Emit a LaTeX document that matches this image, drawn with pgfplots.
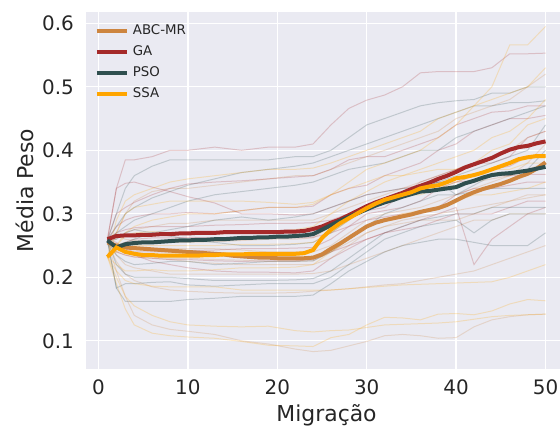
\documentclass[border=0pt]{standalone}
\usepackage{pgfplots}
\usepackage{pgfplotstable}
\pgfplotsset{compat=1.18}
\usepackage{fontspec}
\setmainfont{DejaVu Sans}
\definecolor{bgc}{RGB}{234,234,242}
\definecolor{txt}{RGB}{38,38,38}
\definecolor{cabc}{RGB}{205,133,63}
\definecolor{cga}{RGB}{165,42,42}
\definecolor{cpso}{RGB}{47,79,79}
\definecolor{cssa}{RGB}{255,165,0}

\pgfplotstableread{
x a1 a2 a3 a4 a5 a6 a7 a8 a9
1 .255 .255 .255 .255 .255 .255 .255 .255 .255
2 .27 .26 .245 .24 .235 .225 .21 .265 .25
3 .30 .27 .245 .235 .22 .205 .17 .26 .24
4 .32 .275 .245 .232 .215 .195 .14 .258 .235
6 .335 .28 .245 .23 .21 .185 .125 .255 .232
8 .34 .285 .245 .228 .205 .18 .118 .255 .23
10 .34 .285 .245 .225 .205 .178 .115 .255 .23
13 .345 .29 .245 .222 .205 .176 .11 .256 .228
16 .35 .29 .243 .22 .205 .175 .10 .258 .227
19 .355 .29 .24 .22 .205 .175 .095 .26 .225
22 .36 .29 .24 .22 .205 .176 .087 .26 .225
24 .36 .29 .24 .22 .206 .178 .083 .262 .226
26 .37 .30 .25 .23 .21 .18 .085 .28 .24
28 .38 .31 .27 .25 .22 .182 .092 .30 .255
30 .39 .32 .29 .27 .23 .185 .099 .31 .27
32 .40 .33 .30 .28 .24 .188 .108 .32 .28
34 .41 .34 .305 .285 .25 .19 .11 .33 .29
36 .42 .35 .31 .29 .26 .195 .108 .335 .295
38 .43 .36 .32 .29 .27 .20 .104 .34 .30
40 .45 .37 .33 .29 .28 .205 .105 .345 .305
42 .46 .38 .34 .30 .29 .21 .122 .35 .31
44 .47 .39 .35 .31 .29 .22 .133 .355 .315
46 .48 .40 .36 .32 .30 .23 .138 .36 .32
48 .50 .42 .37 .33 .30 .24 .141 .38 .325
50 .52 .43 .38 .33 .30 .25 .142 .41 .33
}\abcruns

\pgfplotstableread{
x g1 g2 g3 g4 g5 g6 g7 g8 g9
1 .26 .26 .26 .26 .26 .26 .26 .26 .26
2 .34 .34 .30 .28 .27 .25 .255 .24 .25
3 .385 .348 .31 .29 .275 .255 .245 .235 .24
4 .385 .35 .318 .295 .278 .26 .24 .232 .235
6 .39 .342 .33 .30 .28 .262 .24 .23 .225
8 .40 .335 .34 .30 .28 .262 .24 .228 .22
10 .40 .327 .347 .302 .28 .263 .242 .228 .215
13 .405 .317 .35 .30 .282 .262 .243 .226 .21
16 .40 .30 .352 .305 .283 .26 .245 .225 .208
19 .405 .30 .355 .31 .285 .262 .245 .226 .208
22 .405 .298 .358 .31 .285 .262 .246 .226 .207
24 .41 .30 .36 .312 .286 .263 .247 .228 .21
26 .44 .31 .37 .33 .29 .27 .26 .24 .23
28 .466 .32 .385 .34 .30 .28 .28 .25 .245
30 .479 .33 .39 .345 .305 .29 .30 .26 .26
32 .487 .335 .39 .36 .31 .295 .305 .27 .27
34 .50 .34 .40 .37 .33 .30 .31 .275 .28
36 .522 .345 .41 .38 .35 .30 .32 .28 .29
38 .524 .35 .42 .40 .36 .31 .34 .29 .30
40 .524 .35 .44 .41 .37 .33 .35 .30 .31
42 .524 .352 .45 .43 .38 .34 .36 .30 .22
44 .53 .36 .46 .44 .38 .34 .37 .30 .26
46 .552 .36 .462 .45 .39 .345 .375 .31 .28
48 .552 .362 .47 .45 .42 .35 .39 .32 .30
50 .553 .362 .47 .455 .43 .35 .39 .32 .31
}\garuns

\pgfplotstableread{
x p1 p2 p3 p4 p5 p6 p7 p8 p9
1 .258 .258 .258 .258 .258 .258 .258 .258 .258
2 .30 .28 .27 .25 .235 .22 .183 .183 .26
3 .34 .30 .28 .255 .225 .205 .19 .162 .27
4 .36 .31 .29 .26 .22 .20 .19 .162 .275
6 .375 .325 .30 .27 .222 .20 .192 .162 .27
8 .385 .335 .31 .275 .225 .20 .193 .162 .265
10 .385 .345 .32 .28 .225 .198 .188 .165 .26
13 .385 .355 .33 .29 .22 .195 .186 .167 .255
16 .385 .365 .335 .295 .222 .195 .188 .17 .25
19 .385 .37 .34 .29 .225 .195 .19 .17 .25
22 .39 .375 .345 .295 .225 .196 .19 .17 .252
24 .39 .38 .35 .30 .226 .198 .19 .172 .255
26 .40 .39 .36 .31 .24 .21 .20 .19 .27
28 .42 .40 .37 .32 .26 .23 .22 .21 .29
30 .44 .41 .375 .33 .28 .25 .24 .225 .31
32 .45 .42 .38 .335 .30 .27 .26 .24 .32
34 .46 .43 .39 .34 .31 .28 .27 .25 .33
36 .47 .44 .40 .34 .32 .29 .28 .255 .34
38 .475 .45 .40 .35 .33 .295 .285 .26 .35
40 .478 .46 .42 .33 .33 .30 .29 .26 .36
42 .48 .47 .43 .345 .335 .30 .27 .255 .37
44 .49 .47 .44 .36 .34 .31 .29 .25 .38
46 .49 .475 .45 .36 .34 .31 .30 .25 .39
48 .50 .475 .46 .37 .34 .31 .30 .25 .40
50 .50 .478 .47 .40 .34 .31 .30 .27 .44
}\psoruns

\pgfplotstableread{
x s1 s2 s3 s4 s5 s6 s7 s8 s9
1 .232 .232 .232 .232 .232 .232 .232 .232 .232
2 .25 .29 .27 .25 .24 .22 .21 .20 .19
3 .27 .32 .30 .265 .245 .21 .195 .17 .15
4 .28 .33 .31 .27 .25 .21 .19 .155 .125
6 .29 .34 .315 .272 .25 .212 .186 .14 .112
8 .295 .35 .32 .27 .25 .21 .185 .13 .108
10 .30 .355 .32 .27 .25 .21 .185 .125 .106
13 .30 .36 .32 .268 .25 .212 .185 .123 .104
16 .305 .365 .32 .27 .252 .215 .18 .122 .099
19 .31 .37 .318 .272 .252 .215 .18 .123 .093
22 .31 .37 .315 .275 .253 .216 .18 .116 .092
24 .315 .372 .318 .28 .255 .22 .18 .114 .091
26 .33 .38 .33 .30 .27 .24 .18 .116 .105
28 .35 .39 .34 .32 .29 .26 .182 .117 .11
30 .37 .40 .35 .335 .31 .28 .184 .121 .125
32 .38 .41 .36 .35 .32 .29 .186 .125 .137
34 .39 .42 .36 .36 .33 .30 .188 .126 .136
36 .40 .43 .365 .37 .33 .305 .189 .127 .133
38 .42 .45 .37 .38 .34 .31 .19 .128 .142
40 .44 .46 .37 .39 .35 .32 .191 .13 .143
42 .47 .47 .38 .40 .36 .33 .192 .134 .141
44 .50 .48 .40 .42 .37 .33 .193 .138 .147
46 .566 .49 .41 .43 .37 .335 .20 .14 .158
48 .566 .50 .44 .45 .38 .34 .21 .141 .165
50 .595 .53 .45 .48 .38 .35 .22 .142 .163
}\ssaruns

\pgfplotstableread{
x abc ga pso ssa
1 .255 .260 .258 .232
2 .250 .265 .247 .247
3 .247 .266 .252 .240
4 .246 .266 .254 .237
5 .245 .267 .255 .235
6 .244 .267 .255 .235
7 .243 .268 .256 .234
8 .242 .268 .257 .234
9 .241 .269 .258 .234
10 .240 .269 .258 .234
11 .239 .270 .259 .234
12 .238 .270 .259 .235
13 .237 .270 .260 .235
14 .236 .271 .260 .236
15 .234 .271 .261 .236
16 .233 .271 .262 .236
17 .232 .271 .262 .237
18 .231 .271 .263 .237
19 .231 .271 .263 .237
20 .230 .271 .264 .237
21 .230 .272 .264 .237
22 .230 .272 .265 .237
23 .230 .273 .266 .238
24 .231 .276 .268 .243
25 .236 .280 .275 .262
26 .245 .286 .282 .275
27 .253 .291 .289 .285
28 .262 .298 .295 .293
29 .271 .305 .301 .301
30 .280 .312 .307 .309
31 .286 .318 .313 .316
32 .290 .323 .318 .322
33 .293 .328 .322 .326
34 .296 .333 .327 .330
35 .299 .339 .331 .334
36 .303 .344 .335 .340
37 .306 .349 .336 .343
38 .309 .355 .338 .345
39 .314 .360 .340 .350
40 .321 .366 .342 .356
41 .328 .373 .348 .358
42 .334 .378 .352 .361
43 .339 .383 .357 .365
44 .343 .388 .361 .370
45 .347 .395 .363 .375
46 .352 .401 .364 .380
47 .358 .405 .366 .386
48 .363 .407 .368 .389
49 .371 .411 .371 .391
50 .381 .414 .374 .391
}\means

\begin{document}
\begin{tikzpicture}
\useasboundingbox (-86bp,-59bp) rectangle (474bp,369bp);
\begin{axis}[
  scale only axis,
  width=474bp, height=357bp,
  xmin=-1.40, xmax=51.62,
  ymin=0.0556, ymax=0.6178,
  axis background/.style={fill=bgc},
  axis line style={draw=none},
  major tick length=0pt,
  grid=major,
  major grid style={white, line width=1.3bp},
  xtick={0,10,20,30,40,50},
  ytick={0.1,0.2,0.3,0.4,0.5,0.6},
  /pgf/number format/assume math mode=true,
  yticklabel={\pgfmathprintnumber[fixed,fixed zerofill,precision=1]{\tick}},
  tick label style={font=\fontsize{20}{24}\selectfont, text=txt},
  yticklabel style={inner sep=0pt, xshift=-12bp},
  xticklabel style={inner sep=0pt, yshift=-11bp},
  xlabel={Migração},
  ylabel={Média Peso},
  every axis x label/.style={at={(axis description cs:0.5074,-0.146)}, anchor=base,
    font=\fontsize{22}{26}\selectfont, text=txt},
  every axis y label/.style={at={(axis description cs:-0.1118,0.5)}, rotate=90, anchor=base,
    font=\fontsize{22}{26}\selectfont, text=txt},
  legend style={at={(axis description cs:0.012,0.970)}, anchor=north west,
    draw=none, fill=none, font=\fontsize{13.4}{16}\selectfont, text=txt,
    nodes={inner sep=0pt, text height=10bp, text depth=3bp},
    row sep=7.8bp, /tikz/every odd column/.append style={column sep=4bp}},
  legend cell align=left,
  legend image code/.code={\draw[#1, line width=4bp] (0bp,0bp) -- (30bp,0bp);},
  faint/.style={line width=1bp, opacity=0.22, forget plot},
]
\pgfplotsinvokeforeach{a1,a2,a3,a4,a5,a6,a7,a8,a9}{\addplot[cabc, faint] table[x=x,y=#1]{\abcruns};}
\pgfplotsinvokeforeach{g1,g2,g3,g4,g5,g6,g7,g8,g9}{\addplot[cga, faint] table[x=x,y=#1]{\garuns};}
\pgfplotsinvokeforeach{p1,p2,p3,p4,p5,p6,p7,p8,p9}{\addplot[cpso, faint] table[x=x,y=#1]{\psoruns};}
\pgfplotsinvokeforeach{s1,s2,s3,s4,s5,s6,s7,s8,s9}{\addplot[cssa, faint] table[x=x,y=#1]{\ssaruns};}
\addplot[cabc, line width=4bp] table[x=x,y=abc]{\means};
\addlegendentry{ABC-MR}
\addplot[cga, line width=4bp] table[x=x,y=ga]{\means};
\addlegendentry{GA}
\addplot[cpso, line width=4bp] table[x=x,y=pso]{\means};
\addlegendentry{PSO}
\addplot[cssa, line width=4bp] table[x=x,y=ssa]{\means};
\addlegendentry{SSA}
\end{axis}
\end{tikzpicture}
\end{document}
